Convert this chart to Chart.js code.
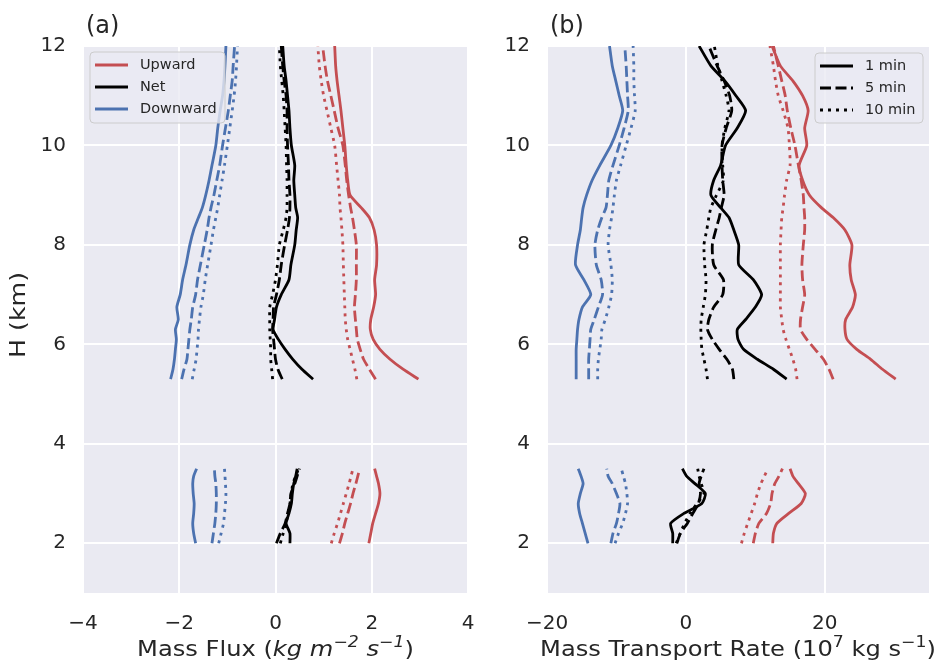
<!DOCTYPE html>
<html>
<head>
<meta charset="utf-8">
<script src="https://cdn.jsdelivr.net/npm/chart.js@4.4.0/dist/chart.umd.min.js"></script>
<style>
  html, body { margin: 0; padding: 0; background: #fff; }
  #wrap { position: relative; width: 944px; height: 667px; }
  .panel { position: absolute; top: 0; height: 667px; }
  #panelA { left: 0; width: 480px; }
  #panelB { left: 480px; width: 464px; }
</style>
</head>
<body>
<div id="wrap">
  <div class="panel" id="panelA"><canvas id="chartA"></canvas></div>
  <div class="panel" id="panelB"><canvas id="chartB"></canvas></div>
</div>
<script>
// 高度 (km)
const hUpper = [5.3, 5.5, 5.7, 5.9, 6.1, 6.3, 6.5, 6.75, 7.0, 7.3, 7.6, 8.0, 8.3, 8.55, 8.75, 9.0, 9.3, 9.6, 10.0, 10.35, 10.7, 11.0, 11.3, 11.6, 12.0];
const hLower = [2.0, 2.2, 2.4, 2.6, 2.8, 3.0, 3.2, 3.35, 3.5];
const hTicks = [2, 4, 6, 8, 10, 12];
const xTicksA = [-4, -2, 0, 2, 4];
const xTicksB = [-20, 0, 20];

// 每组三行: 1 min, 5 min, 10 min
// (a) Mass Flux
const fluxUpHi = [
  [2.97, 2.65, 2.38, 2.17, 2.03, 1.97, 1.98, 2.04, 2.08, 2.06, 2.1, 2.1, 2.05, 1.95, 1.78, 1.55, 1.5, 1.47, 1.44, 1.4, 1.36, 1.32, 1.28, 1.25, 1.23],
  [2.08, 1.95, 1.83, 1.76, 1.7, 1.68, 1.66, 1.64, 1.66, 1.68, 1.68, 1.68, 1.64, 1.6, 1.56, 1.52, 1.48, 1.45, 1.4, 1.3, 1.22, 1.15, 1.08, 1.03, 0.98],
  [1.69, 1.65, 1.6, 1.55, 1.5, 1.47, 1.45, 1.44, 1.43, 1.42, 1.41, 1.4, 1.38, 1.36, 1.34, 1.33, 1.3, 1.27, 1.23, 1.15, 1.07, 1.0, 0.95, 0.91, 0.88]
];
const fluxNetHi = [
  [0.78, 0.55, 0.36, 0.2, 0.06, -0.05, -0.02, 0.02, 0.12, 0.28, 0.32, 0.4, 0.43, 0.46, 0.42, 0.4, 0.38, 0.4, 0.33, 0.3, 0.28, 0.25, 0.22, 0.18, 0.15],
  [0.14, 0.05, 0.0, -0.02, -0.04, -0.06, -0.05, -0.04, 0.02, 0.08, 0.12, 0.19, 0.25, 0.29, 0.3, 0.3, 0.28, 0.27, 0.25, 0.24, 0.24, 0.22, 0.18, 0.15, 0.12],
  [-0.06, -0.08, -0.1, -0.1, -0.11, -0.12, -0.12, -0.12, -0.06, 0.0, 0.04, 0.08, 0.16, 0.22, 0.24, 0.24, 0.24, 0.23, 0.22, 0.2, 0.18, 0.16, 0.13, 0.1, 0.08]
];
const fluxDownHi = [
  [-2.18, -2.13, -2.1, -2.08, -2.06, -2.08, -2.02, -2.05, -1.98, -1.93, -1.86, -1.78, -1.7, -1.6, -1.52, -1.45, -1.38, -1.32, -1.24, -1.2, -1.15, -1.1, -1.07, -1.05, -1.03],
  [-1.95, -1.9, -1.84, -1.82, -1.8, -1.78, -1.75, -1.72, -1.66, -1.62, -1.56, -1.48, -1.42, -1.38, -1.34, -1.28, -1.22, -1.16, -1.1, -1.04, -0.98, -0.94, -0.9, -0.88, -0.85],
  [-1.73, -1.69, -1.65, -1.63, -1.61, -1.6, -1.58, -1.55, -1.5, -1.46, -1.41, -1.34, -1.29, -1.24, -1.2, -1.16, -1.11, -1.06, -1.0, -0.95, -0.9, -0.86, -0.83, -0.81, -0.79]
];
const fluxUpLo = [
  [1.94, 1.98, 2.02, 2.08, 2.14, 2.17, 2.14, 2.1, 2.06],
  [1.33, 1.39, 1.44, 1.5, 1.56, 1.61, 1.67, 1.71, 1.75],
  [1.16, 1.22, 1.29, 1.35, 1.41, 1.47, 1.53, 1.57, 1.61]
];
const fluxNetLo = [
  [0.3, 0.3, 0.22, 0.28, 0.33, 0.35, 0.38, 0.42, 0.45],
  [0.02, 0.1, 0.2, 0.25, 0.3, 0.32, 0.4, 0.45, 0.5],
  [0.1, 0.16, 0.22, 0.26, 0.3, 0.33, 0.36, 0.42, 0.48]
];
const fluxDownLo = [
  [-1.66, -1.7, -1.72, -1.7, -1.69, -1.71, -1.72, -1.7, -1.64],
  [-1.32, -1.29, -1.26, -1.24, -1.23, -1.23, -1.24, -1.26, -1.27],
  [-1.18, -1.13, -1.08, -1.06, -1.04, -1.03, -1.04, -1.05, -1.06]
];

// (b) Mass Transport Rate (10^7 kg/s)
const rateUpHi = [
  [30.2, 28.3, 26.6, 24.6, 23.2, 22.9, 23.0, 24.0, 24.4, 23.8, 23.6, 23.9, 22.9, 21.2, 19.5, 17.8, 16.8, 16.3, 17.4, 17.1, 17.6, 16.8, 15.4, 13.6, 12.4],
  [21.2, 20.6, 19.8, 18.6, 17.4, 16.5, 16.5, 16.8, 17.1, 16.8, 16.7, 16.9, 17.1, 17.1, 17.0, 16.9, 16.6, 16.2, 15.7, 15.1, 14.6, 14.3, 13.8, 13.3, 12.6],
  [16.0, 15.8, 15.4, 14.9, 14.4, 14.0, 13.8, 13.6, 13.6, 13.6, 13.6, 13.6, 13.7, 13.8, 14.0, 14.2, 14.5, 15.0, 14.9, 14.7, 14.0, 13.3, 12.9, 12.6, 12.1]
];
const rateNetHi = [
  [14.5, 12.6, 10.3, 8.3, 7.5, 7.4, 8.6, 10.0, 10.9, 9.7, 7.6, 7.6, 6.9, 6.2, 5.0, 3.6, 4.0, 5.0, 5.7, 7.4, 8.6, 7.2, 5.6, 3.6, 1.9],
  [6.9, 6.7, 5.9, 4.8, 3.8, 3.1, 3.3, 4.0, 5.3, 5.4, 4.0, 3.8, 4.3, 4.8, 5.1, 5.5, 5.3, 5.2, 5.2, 5.8, 6.6, 6.3, 5.5, 4.5, 3.3],
  [3.1, 2.9, 2.6, 2.3, 2.2, 2.15, 2.2, 2.5, 2.8, 2.9, 2.7, 2.6, 3.0, 3.3, 3.6, 4.4, 5.4, 5.3, 5.2, 5.6, 6.2, 5.8, 5.2, 4.6, 4.1]
];
const rateDownHi = [
  [-15.8, -15.8, -15.8, -15.8, -15.7, -15.6, -15.4, -14.9, -13.7, -14.7, -15.9, -15.6, -15.2, -15.0, -14.8, -14.3, -13.5, -12.4, -10.8, -9.8, -9.1, -9.6, -10.1, -10.6, -11.0],
  [-14.0, -14.0, -14.0, -13.9, -13.8, -13.7, -13.2, -12.6, -12.0, -12.2, -12.9, -13.1, -12.7, -12.1, -11.5, -11.3, -11.1, -10.5, -9.6, -8.9, -8.3, -8.4, -8.5, -8.6, -8.8],
  [-12.7, -12.7, -12.6, -12.4, -12.2, -12.1, -11.6, -11.1, -10.7, -10.6, -10.8, -11.2, -11.0, -10.7, -10.5, -10.3, -10.0, -9.4, -8.6, -7.9, -7.3, -7.4, -7.5, -7.5, -7.6]
];
const rateUpLo = [
  [12.5, 12.6, 13.1, 14.8, 16.6, 17.2, 16.2, 15.4, 15.0],
  [9.7, 10.0, 10.5, 11.6, 12.2, 12.4, 12.8, 13.4, 13.9],
  [8.0, 8.4, 8.9, 9.4, 9.9, 10.3, 10.8, 11.3, 11.8]
];
const rateNetLo = [
  [-1.9, -1.9, -2.2, -0.3, 2.3, 2.8, 1.3, 0.1, -0.5],
  [-1.3, -0.8, 0.2, 1.0, 1.8, 2.1, 1.9, 2.2, 2.6],
  [-1.4, -0.8, -0.2, 0.6, 1.6, 2.6, 2.2, 1.9, 1.7]
];
const rateDownLo = [
  [-14.1, -14.5, -14.9, -15.3, -15.5, -15.2, -14.8, -15.1, -15.5],
  [-10.8, -10.5, -10.0, -9.7, -9.5, -10.0, -10.6, -11.2, -11.4],
  [-10.2, -9.7, -9.1, -8.7, -8.4, -8.5, -8.7, -9.0, -9.3]
];

const kindLabels = ['Upward', 'Net', 'Downward'];
const intervalLabels = ['1 min', '5 min', '10 min'];

// x轴标题 (分段: 斜体 / 上标)
const titleA = [
  { t: 'Mass Flux (' },
  { t: 'kg m', it: true },
  { t: '\u22122', it: true, sup: true },
  { t: ' s', it: true },
  { t: '\u22121', it: true, sup: true },
  { t: ')' }
];
const titleB = [
  { t: 'Mass Transport Rate (10' },
  { t: '7', sup: true },
  { t: ' kg s' },
  { t: '\u22121', sup: true },
  { t: ')' }
];

const FONT = '"DejaVu Sans", "Liberation Sans", sans-serif';
const TEXT = '#262626';
const BG = '#EAEAF2';
const COLORS = ['#C44E52', '#000000', '#4C72B0'];
const DASHES = [[], [11, 4.5], [3, 5]];
const LW = 2.8;
const STRETCH = 1.15;   // 原图文字略宽

function fmt(v) {
    return v < 0 ? '\u2212' + Math.abs(v) : String(v);
}

function buildDatasets(groupsHi, groupsLo) {
    const sets = [];
    groupsHi.forEach((group, k) => {
        group.forEach((vals, j) => {
            sets.push({
                data: vals.map((v, i) => ({ x: v, y: hUpper[i] })),
                borderColor: COLORS[k], borderDash: DASHES[j]
            });
        });
    });
    groupsLo.forEach((group, k) => {
        group.forEach((vals, j) => {
            sets.push({
                data: vals.map((v, i) => ({ x: v, y: hLower[i] })),
                borderColor: COLORS[k], borderDash: DASHES[j]
            });
        });
    });
    return sets.map(s => Object.assign(s, {
        showLine: true, pointRadius: 0, borderWidth: LW, tension: 0.2,
        borderCapStyle: 'butt', borderJoinStyle: 'round', fill: false
    }));
}

function roundRect(ctx, x, y, w, h, r) {
    ctx.beginPath();
    ctx.moveTo(x + r, y);
    ctx.lineTo(x + w - r, y);
    ctx.arcTo(x + w, y, x + w, y + r, r);
    ctx.lineTo(x + w, y + h - r);
    ctx.arcTo(x + w, y + h, x + w - r, y + h, r);
    ctx.lineTo(x + r, y + h);
    ctx.arcTo(x, y + h, x, y + h - r, r);
    ctx.lineTo(x, y + r);
    ctx.arcTo(x, y, x + r, y, r);
    ctx.closePath();
}

// 背景、图例、标题等装饰
const decorPlugin = {
    id: 'decor',
    beforeDraw(chart) {
        const a = chart.chartArea;
        const ctx = chart.ctx;
        ctx.save();
        ctx.fillStyle = BG;
        ctx.fillRect(a.left, a.top, a.right - a.left, a.bottom - a.top);
        ctx.restore();
    },
    afterDraw(chart, args, o) {
        const a = chart.chartArea;
        const ctx = chart.ctx;
        ctx.save();

        // 面板标签
        ctx.fillStyle = TEXT;
        ctx.font = '24px ' + FONT;
        ctx.textAlign = 'left';
        ctx.textBaseline = 'middle';
        ctx.fillText(o.label, a.left + 3, 27);

        // y轴标题
        if (o.ylabel) {
            ctx.save();
            ctx.translate(19, 315);
            ctx.rotate(-Math.PI / 2);
            ctx.scale(STRETCH, 1);
            ctx.font = '22px ' + FONT;
            ctx.textAlign = 'center';
            ctx.textBaseline = 'middle';
            ctx.fillText(o.ylabel, 0, 0);
            ctx.restore();
        }

        // x轴标题
        const base = 656;
        const parts = o.title.map(p => ({
            p: p,
            font: (p.it ? 'italic ' : '') + (p.sup ? '15px ' : '21px ') + FONT
        }));
        let total = 0;
        parts.forEach(q => { ctx.font = q.font; q.w = ctx.measureText(q.p.t).width; total += q.w; });
        ctx.save();
        ctx.translate((a.left + a.right) / 2, base);
        ctx.scale(STRETCH, 1);
        let x = -total / 2;
        ctx.textBaseline = 'alphabetic';
        ctx.textAlign = 'left';
        parts.forEach(q => {
            ctx.font = q.font;
            ctx.fillText(q.p.t, x, q.p.sup ? -9 : 0);
            x += q.w;
        });
        ctx.restore();

        // 图例
        const lg = o.legend;
        roundRect(ctx, lg.x, lg.y, lg.w, lg.h, 4);
        ctx.fillStyle = 'rgba(234,234,242,0.8)';
        ctx.fill();
        ctx.lineWidth = 1;
        ctx.strokeStyle = '#CCCCCC';
        ctx.stroke();
        ctx.font = '14.5px ' + FONT;
        ctx.textBaseline = 'middle';
        lg.items.forEach((it, i) => {
            const yy = lg.y + 13 + i * 22;
            ctx.beginPath();
            ctx.setLineDash(it.dash);
            ctx.lineCap = 'butt';
            ctx.lineWidth = LW;
            ctx.strokeStyle = it.color;
            ctx.moveTo(lg.x + 5, yy);
            ctx.lineTo(lg.x + 38, yy);
            ctx.stroke();
            ctx.setLineDash([]);
            ctx.fillStyle = TEXT;
            ctx.fillText(it.text, lg.x + 50, yy);
        });
        ctx.restore();
    }
};

function makePanel(canvasId, cfg) {
    return new Chart(document.getElementById(canvasId), {
        type: 'scatter',
        data: { datasets: buildDatasets(cfg.hi, cfg.lo) },
        options: {
            responsive: true,
            maintainAspectRatio: false,
            animation: false,
            events: [],
            layout: { padding: { top: 46, right: cfg.padRight, left: 0, bottom: 0 } },
            plugins: {
                legend: { display: false },
                tooltip: { enabled: false },
                decor: cfg.decor
            },
            scales: {
                x: {
                    type: 'linear', min: cfg.xmin, max: cfg.xmax,
                    afterBuildTicks: s => { s.ticks = cfg.xticks.map(v => ({ value: v })); },
                    afterFit: s => { s.height = 74; s.paddingLeft = 0; s.paddingRight = 0; },
                    grid: { color: '#FFFFFF', lineWidth: 2, drawTicks: false },
                    border: { display: false },
                    ticks: { callback: v => fmt(v), color: TEXT, padding: 19, font: { family: FONT, size: 20 } }
                },
                y: {
                    type: 'linear', min: 1, max: 12,
                    afterBuildTicks: s => { s.ticks = hTicks.map(v => ({ value: v })); },
                    afterFit: s => { s.width = cfg.yWidth; s.paddingTop = 0; s.paddingBottom = 0; },
                    grid: { color: '#FFFFFF', lineWidth: 2, drawTicks: false },
                    border: { display: false },
                    ticks: { callback: v => fmt(v), color: TEXT, padding: 17, font: { family: FONT, size: 20 } }
                }
            }
        },
        plugins: [decorPlugin]
    });
}

makePanel('chartA', {
    hi: [fluxUpHi, fluxNetHi, fluxDownHi],
    lo: [fluxUpLo, fluxNetLo, fluxDownLo],
    xmin: -4, xmax: 4, xticks: xTicksA,
    yWidth: 83, padRight: 12,
    decor: {
        label: '(a)', ylabel: 'H (km)', title: titleA,
        legend: {
            x: 90, y: 52, w: 135, h: 71,
            items: kindLabels.map((t, i) => ({ text: t, color: COLORS[i], dash: [] }))
        }
    }
});

makePanel('chartB', {
    hi: [rateUpHi, rateNetHi, rateDownHi],
    lo: [rateUpLo, rateNetLo, rateDownLo],
    xmin: -20, xmax: 35, xticks: xTicksB,
    yWidth: 67, padRight: 15,
    decor: {
        label: '(b)', ylabel: null, title: titleB,
        legend: {
            x: 335, y: 53, w: 108, h: 70,
            items: intervalLabels.map((t, i) => ({ text: t, color: '#000000', dash: DASHES[i] }))
        }
    }
});
</script>
</body>
</html>
